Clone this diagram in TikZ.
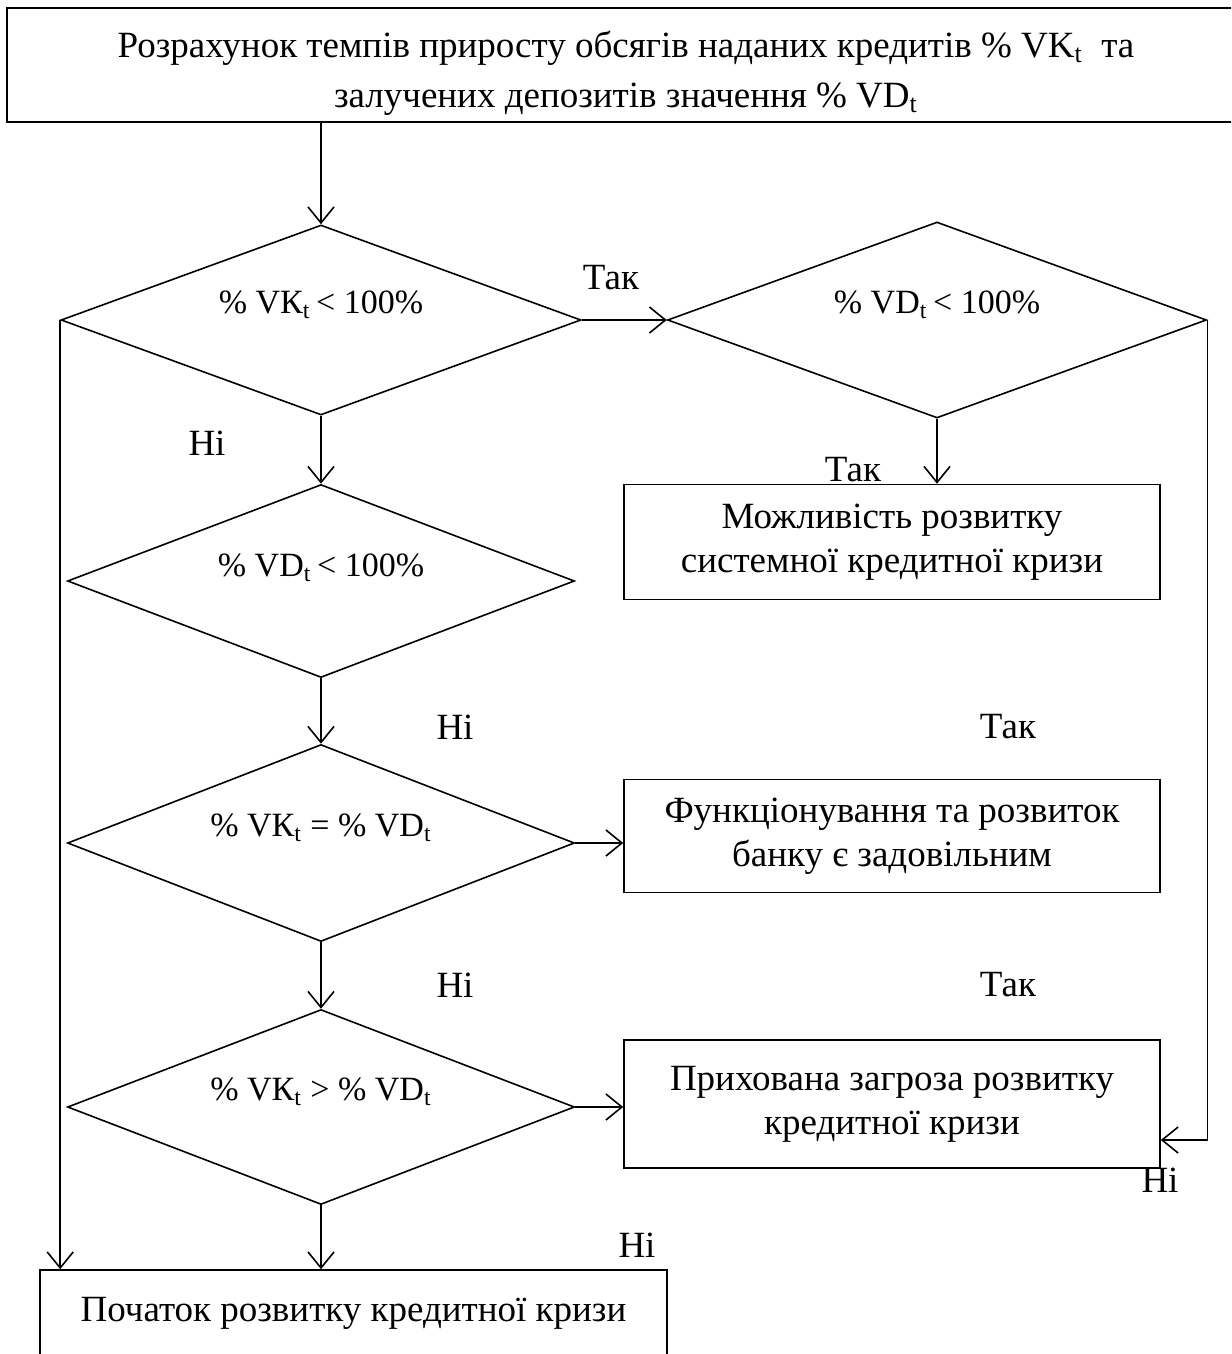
\documentclass[tikz,border=0pt]{standalone}
\usepackage{fontspec}
\setmainfont{Liberation Serif}
\usetikzlibrary{shapes.geometric,arrows.meta}

\begin{document}
\begin{tikzpicture}[x=0.5pt,y=-0.5pt,
    box/.style={draw,line width=0.8pt,inner sep=0pt,align=center,font=\fontsize{18.5}{22}\selectfont},
    decision/.style={draw,shape=diamond,line width=0.8pt,inner sep=0pt},
    cond/.style={inner sep=0pt,font=\fontsize{17}{20}\selectfont},
    answer/.style={inner sep=0pt,font=\fontsize{18.5}{22}\selectfont},
    arr/.style={line width=0.8pt,-{Straight Barb[length=8pt,width=13pt]}}]
    \useasboundingbox (0,0) rectangle (1231,1354);
    \clip (0,0) rectangle (1231,1354);
    % boxes
    \node[box,minimum width=619pt,minimum height=57pt,font=\fontsize{18.5}{25}\selectfont] (calc) at (626,65)
        {\rule{0pt}{21pt}Розрахунок темпів приросту обсягів наданих кредитів \% VK\textsubscript{t}\ \ та\\залучених депозитів значення \% VD\textsubscript{t}};
    \node[box,minimum width=268pt,minimum height=57.5pt] (crisis) at (892,542) {Можливість розвитку\\системної кредитної кризи};
    \node[box,minimum width=268pt,minimum height=56.5pt] (normal) at (892,836) {Функціонування та розвиток\\банку є задовільним};
    \node[box,minimum width=268pt,minimum height=64pt] (hidden) at (892,1104) {Прихована загроза розвитку\\кредитної кризи};
    \node[box,minimum width=313.5pt,minimum height=43pt] (start) at (353.5,1313) {Початок розвитку кредитної кризи};
    % decisions
    \node[decision,minimum width=260pt,minimum height=95pt] (dk) at (321,320) {};
    \node[decision,minimum width=269.5pt,minimum height=98pt] (dd) at (937,320) {};
    \node[decision,minimum width=253.5pt,minimum height=96.5pt] (dd2) at (321,581) {};
    \node[decision,minimum width=253.5pt,minimum height=98.5pt] (deq) at (321,843) {};
    \node[decision,minimum width=253.5pt,minimum height=97.5pt] (dgt) at (321,1107) {};
    \node[cond] (tk) at ([yshift=7.5pt]dk.center) {\% VК\textsubscript{t}\,< 100\%};
    \node[cond] (td) at ([yshift=7.5pt]dd.center) {\% VD\textsubscript{t}\,< 100\%};
    \node[cond] (td2) at ([yshift=6.5pt]dd2.center) {\% VD\textsubscript{t}\,< 100\%};
    \node[cond] (teq) at ([yshift=7.5pt]deq.center) {\% VК\textsubscript{t} = \% VD\textsubscript{t}};
    \node[cond] (tgt) at ([yshift=7.5pt]dgt.center) {\% VК\textsubscript{t} > \% VD\textsubscript{t}};
    % answers
    \node[answer] (y1) at (611,278) {Так};
    \node[answer] (n1) at (207,443) {Ні};
    \node[answer] (y2) at (853,470) {Так};
    \node[answer] (n2) at (455,727) {Ні};
    \node[answer] (y3) at (1008,727) {Так};
    \node[answer] (n3) at (455,985) {Ні};
    \node[answer] (y4) at (1008,985) {Так};
    \node[answer] (n4) at (1160,1180) {Ні};
    \node[answer] (n5) at (637,1245) {Ні};
    % connectors
    \coordinate (hin) at (hidden.east |- 0,1140);
    \draw[arr] (dk.north |- calc.south) -- (dk.north);
    \draw[arr] (dk.east) -- (dd.west);
    \draw[arr] (dd.south) -- (dd.south |- crisis.north);
    \draw[arr] (dd.east) |- (hin);
    \draw[arr] (dk.south) -- (dd2.north);
    \draw[arr] (dd2.south) -- (deq.north);
    \draw[arr] (deq.east) -- (deq.east -| normal.west);
    \draw[arr] (deq.south) -- (dgt.north);
    \draw[arr] (dgt.east) -- (dgt.east -| hidden.west);
    \draw[arr] (dgt.south) -- (dgt.south |- start.north);
    \draw[arr] (dk.west) -- (dk.west |- start.north);
\end{tikzpicture}
\end{document}
